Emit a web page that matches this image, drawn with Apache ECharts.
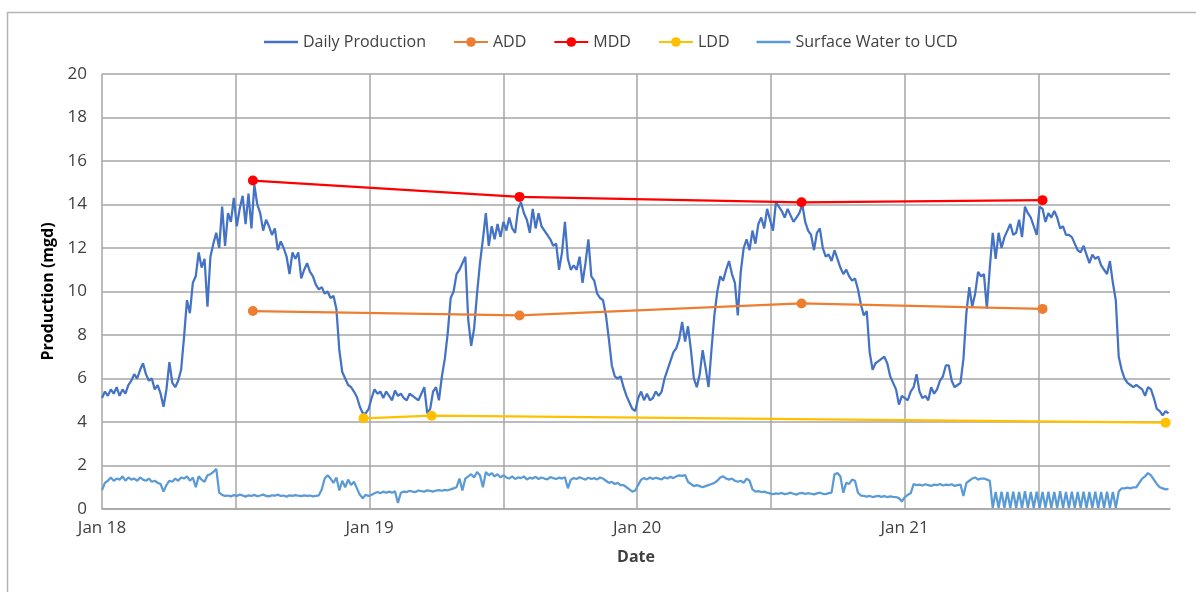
<!DOCTYPE html>
<html>
<head>
<meta charset="utf-8">
<script src="https://cdn.jsdelivr.net/npm/echarts@6/dist/echarts.min.js"></script>
<style>
  html, body { margin: 0; padding: 0; background: #ffffff; }
  #chart { width: 1196px; height: 592px; }
</style>
</head>
<body>
<div id="chart"></div>
<script>
// Series names
const seriesNames = ['Daily Production', 'ADD', 'MDD', 'LDD', 'Surface Water to UCD'];

// Dense records: one value every 4 days starting 2018-01-01
const denseStart = '2018-01-01';
const denseStepDays = 4;

// Daily Production (mgd)
const dailyProduction = [
  5.1,5.4,5.2,5.5,5.3,5.6,5.2,5.5,5.3,5.7,
  5.9,6.2,6.0,6.4,6.7,6.2,5.9,6.0,5.5,5.7,
  5.3,4.7,5.5,6.75,5.8,5.6,5.9,6.4,7.9,9.6,
  9.0,10.4,10.7,11.8,11.1,11.5,9.3,11.6,12.2,12.7,
  12.0,13.9,12.1,13.6,13.2,14.3,13.0,13.8,14.4,13.1,
  14.5,12.9,14.9,14.0,13.6,12.8,13.3,13.0,12.6,12.9,
  11.9,12.3,12.0,11.6,10.8,11.8,11.5,11.8,10.6,11.0,
  11.3,10.9,10.7,10.3,10.1,10.2,9.9,10.0,9.7,9.8,
  9.2,7.3,6.3,6.0,5.7,5.6,5.4,5.15,4.7,4.4,
  4.4,4.6,5.1,5.5,5.3,5.4,5.1,5.4,5.2,5.0,
  5.45,5.2,5.3,5.1,5.0,5.3,5.2,5.1,5.0,5.3,
  5.6,4.4,4.6,5.4,5.6,5.0,6.1,6.9,8.1,9.7,
  10.0,10.8,11.0,11.3,11.6,8.7,7.5,8.3,9.9,11.3,
  12.4,13.6,12.1,13.0,12.4,13.1,12.5,13.2,12.8,13.4,
  12.9,12.7,13.8,14.1,13.6,13.3,12.7,13.8,12.9,13.6,
  13.0,12.8,12.6,12.4,12.1,12.2,11.0,11.8,13.2,11.5,
  11.0,11.2,11.0,11.6,10.4,11.3,12.4,10.7,10.5,9.9,
  9.7,9.6,8.9,7.8,6.6,6.1,6.0,6.1,5.6,5.2,
  4.9,4.6,4.5,5.1,5.4,5.0,5.3,5.0,5.1,5.4,
  5.2,5.4,6.0,6.4,6.8,7.2,7.4,7.8,8.6,7.7,
  8.4,7.3,6.0,5.6,6.2,7.3,6.5,5.6,7.3,8.9,
  10.0,10.7,10.5,11.0,11.4,10.8,10.4,8.9,10.9,12.0,
  12.4,11.9,12.8,12.2,13.1,13.4,12.9,13.8,13.3,12.8,
  14.1,13.9,13.7,13.4,13.8,13.5,13.2,13.4,13.6,14.0,
  13.2,12.8,12.6,11.9,12.7,12.9,12.0,11.6,11.7,11.4,
  11.9,11.5,11.1,10.8,11.0,10.7,10.5,10.6,10.1,9.4,
  8.9,9.1,7.2,6.4,6.7,6.8,6.9,7.0,6.7,6.1,
  5.8,5.5,4.8,5.2,5.1,5.0,5.4,5.6,6.2,5.4,
  5.1,5.2,5.0,5.6,5.3,5.5,5.9,6.1,6.6,6.6,
  5.9,5.6,5.7,5.8,6.9,9.0,10.2,9.3,9.9,10.9,
  10.7,10.8,9.2,11.1,12.7,11.5,12.7,12.0,12.5,12.8,
  13.1,12.6,12.7,13.3,12.5,13.9,13.6,13.4,13.0,12.6,
  13.9,13.8,13.2,13.6,13.4,13.7,13.4,12.9,13.0,12.6,
  12.6,12.5,12.2,11.9,11.8,12.1,11.7,11.3,11.7,11.5,
  11.6,11.2,11.0,10.8,11.4,10.4,9.6,7.0,6.4,6.0,
  5.8,5.7,5.6,5.7,5.6,5.5,5.2,5.6,5.5,5.1,
  4.6,4.5,4.3,4.5,4.4
];

// Surface Water to UCD (mgd)
const surfaceWater = [
  0.87,1.2,1.3,1.45,1.3,1.4,1.35,1.5,1.3,1.45,
  1.35,1.4,1.3,1.45,1.35,1.3,1.4,1.25,1.3,1.2,
  1.15,0.8,1.1,1.3,1.25,1.4,1.3,1.45,1.4,1.5,
  1.3,1.45,1.0,1.5,1.35,1.25,1.55,1.6,1.7,1.85,
  0.75,0.65,0.6,0.62,0.58,0.64,0.6,0.66,0.62,0.57,
  0.63,0.6,0.65,0.59,0.62,0.66,0.6,0.58,0.63,0.61,
  0.66,0.6,0.62,0.57,0.63,0.6,0.64,0.61,0.59,0.63,
  0.6,0.62,0.58,0.6,0.63,0.9,1.4,1.55,1.4,1.2,
  1.45,0.85,1.3,1.0,1.35,1.1,1.25,0.95,0.65,0.5,
  0.65,0.6,0.65,0.72,0.78,0.72,0.8,0.75,0.8,0.75,
  0.82,0.28,0.75,0.8,0.78,0.84,0.8,0.78,0.85,0.82,
  0.8,0.86,0.83,0.8,0.85,0.87,0.84,0.88,0.86,0.9,
  0.95,1.0,1.4,0.85,1.4,1.5,1.6,1.45,1.7,1.55,
  1.0,1.7,1.55,1.65,1.5,1.6,1.45,1.55,1.45,1.4,
  1.5,1.38,1.45,1.42,1.5,1.36,1.44,1.4,1.48,1.38,
  1.45,1.4,1.36,1.47,1.42,1.38,1.44,1.4,1.46,0.95,
  1.35,1.42,1.38,1.46,1.4,1.35,1.44,1.38,1.42,1.36,
  1.45,1.4,1.3,1.2,1.25,1.15,1.2,1.1,1.1,1.0,
  0.9,0.8,0.85,1.1,1.35,1.42,1.36,1.45,1.38,1.44,
  1.4,1.36,1.46,1.4,1.48,1.42,1.5,1.55,1.52,1.56,
  1.25,1.15,1.05,1.1,1.05,1.0,1.05,1.1,1.15,1.2,
  1.3,1.45,1.5,1.4,1.35,1.4,1.3,1.25,1.3,1.2,
  1.4,1.3,0.9,0.8,0.82,0.78,0.8,0.75,0.72,0.68,
  0.72,0.7,0.74,0.68,0.71,0.75,0.7,0.66,0.72,0.74,
  0.69,0.73,0.7,0.67,0.72,0.75,0.7,0.68,0.73,0.75,
  1.6,1.65,1.5,0.75,1.2,1.15,1.35,1.3,0.75,0.62,
  0.6,0.57,0.6,0.55,0.58,0.6,0.56,0.59,0.55,0.58,
  0.56,0.55,0.5,0.35,0.55,0.65,0.72,1.15,1.1,1.12,
  1.08,1.14,1.1,1.06,1.12,1.1,1.15,1.08,1.12,1.1,
  1.14,1.06,1.1,1.12,0.6,1.2,1.3,1.4,1.45,1.35,
  1.4,1.4,1.35,1.3,0.05,0.78,0.05,0.8,0.05,0.78,
  0.05,0.8,0.05,0.78,0.05,0.82,0.05,0.78,0.05,0.8,
  0.05,0.78,0.05,0.8,0.05,0.78,0.05,0.82,0.05,0.78,
  0.05,0.8,0.05,0.78,0.05,0.8,0.05,0.78,0.05,0.8,
  0.05,0.78,0.05,0.8,0.05,0.78,0.05,0.8,0.95,0.95,
  0.98,0.95,1.0,1.0,1.2,1.4,1.5,1.65,1.55,1.35,
  1.15,1.0,0.95,0.9,0.92
];

// Demand points (date, mgd)
const addDates = ['2018-07-26', '2019-07-25', '2020-08-13', '2021-07-08'];
const addValues = [9.1, 8.9, 9.45, 9.2];
const mddDates = ['2018-07-26', '2019-07-25', '2020-08-13', '2021-07-08'];
const mddValues = [15.1, 14.35, 14.1, 14.2];
const lddDates = ['2018-12-24', '2019-03-27', '2021-12-23'];
const lddValues = [4.17, 4.29, 3.97];

// Axis ticks
const xTickLabels = ['Jan 18', 'Jan 19', 'Jan 20', 'Jan 21'];
const yTicks = [0, 2, 4, 6, 8, 10, 12, 14, 16, 18, 20];

// Date helpers: the x axis counts days from the first record
const DAY = 86400000;
const t0 = Date.parse(denseStart + 'T00:00:00Z');
const dayOf = s => Math.round((Date.parse(s + 'T00:00:00Z') - t0) / DAY);
const halfYear = 182.625;
const xMax = dayOf('2021-12-29');

const dense = arr => arr.map((v, i) => [i * denseStepDays, v]);
const pairs = (dates, vals) => dates.map((d, i) => [dayOf(d), vals[i]]);

const gridColor = '#a6a6a6';
const textColor = '#404040';
const fontFamily = '"Open Sans", "Liberation Sans", sans-serif';
// plain line icon for the series drawn without markers
const lineIcon = 'path://M0,0 L34,0 L34,2.5 L0,2.5 Z';

const chart = echarts.init(document.getElementById('chart'), null, { renderer: 'canvas' });

chart.setOption({
  backgroundColor: '#ffffff',
  animation: false,
  graphic: [{
    type: 'rect',
    shape: { x: 7.5, y: 12.5, width: 1200, height: 600 },
    style: { fill: 'none', stroke: '#b4b4b4', lineWidth: 1.5 },
    silent: true,
    z: -10
  }],
  legend: {
    left: 259,
    top: 29,
    itemWidth: 34,
    itemHeight: 12,
    itemGap: 27,
    symbolKeepAspect: true,
    textStyle: { fontSize: 16, color: textColor, fontFamily: fontFamily },
    data: [
      { name: seriesNames[0], icon: lineIcon },
      { name: seriesNames[1] },
      { name: seriesNames[2] },
      { name: seriesNames[3] },
      { name: seriesNames[4], icon: lineIcon }
    ]
  },
  grid: { left: 102, right: 26, top: 74, bottom: 83, containLabel: false },
  xAxis: {
    type: 'value',
    min: 0,
    max: xMax,
    interval: halfYear,
    name: 'Date',
    nameLocation: 'middle',
    nameGap: 40,
    nameTextStyle: { fontSize: 16, fontWeight: 'bold', color: textColor, fontFamily: fontFamily },
    axisLine: { show: true, lineStyle: { color: gridColor, width: 1.5 } },
    axisTick: { show: false },
    axisLabel: {
      fontSize: 17,
      color: textColor,
      fontFamily: fontFamily,
      margin: 11,
      showMaxLabel: false,
      formatter: v => {
        const k = Math.round(v / halfYear);
        if (Math.abs(v - k * halfYear) > 0.01 || k % 2 !== 0) return '';
        return xTickLabels[k / 2] || '';
      }
    },
    splitLine: { show: true, showMaxLine: false, lineStyle: { color: gridColor, width: 1.5 } }
  },
  yAxis: {
    type: 'value',
    min: yTicks[0],
    max: yTicks[yTicks.length - 1],
    interval: yTicks[1] - yTicks[0],
    name: 'Production (mgd)',
    nameLocation: 'middle',
    nameRotate: 90,
    nameGap: 46,
    nameTextStyle: { fontSize: 16, fontWeight: 'bold', color: '#000000', fontFamily: fontFamily },
    axisLine: { show: false },
    axisTick: { show: false },
    axisLabel: { fontSize: 17, color: textColor, fontFamily: fontFamily, margin: 15 },
    splitLine: { show: true, lineStyle: { color: gridColor, width: 1.5 } }
  },
  series: [
    {
      name: seriesNames[0], type: 'line', data: dense(dailyProduction),
      symbol: 'none', lineStyle: { color: '#4472c4', width: 2.25 }, itemStyle: { color: '#4472c4' }, z: 3
    },
    {
      name: seriesNames[1], type: 'line', data: pairs(addDates, addValues),
      symbol: 'circle', symbolSize: 10, lineStyle: { color: '#ed7d31', width: 2.25 }, itemStyle: { color: '#ed7d31' }, z: 4
    },
    {
      name: seriesNames[2], type: 'line', data: pairs(mddDates, mddValues),
      symbol: 'circle', symbolSize: 10, lineStyle: { color: '#ff0000', width: 2.25 }, itemStyle: { color: '#ff0000' }, z: 4
    },
    {
      name: seriesNames[3], type: 'line', data: pairs(lddDates, lddValues),
      symbol: 'circle', symbolSize: 10, lineStyle: { color: '#ffc000', width: 2.25 }, itemStyle: { color: '#ffc000' }, z: 4
    },
    {
      name: seriesNames[4], type: 'line', data: dense(surfaceWater),
      symbol: 'none', lineStyle: { color: '#5b9bd5', width: 2.25 }, itemStyle: { color: '#5b9bd5' }, z: 3
    }
  ]
});
</script>
</body>
</html>
